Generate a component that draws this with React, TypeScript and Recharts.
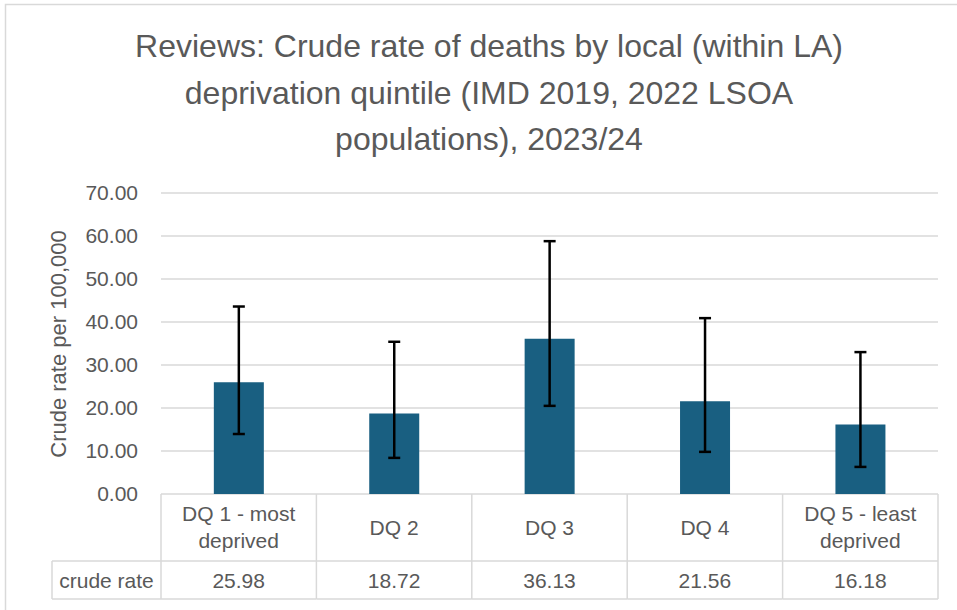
import React from 'react';
import { BarChart, Bar, XAxis, YAxis, CartesianGrid, ErrorBar, Customized } from 'recharts';

// ---- data ----
const categories = ['DQ 1 - most deprived', 'DQ 2', 'DQ 3', 'DQ 4', 'DQ 5 - least deprived'];
const categoryLines = [['DQ 1 - most', 'deprived'], ['DQ 2'], ['DQ 3'], ['DQ 4'], ['DQ 5 - least', 'deprived']];
const crudeRate = [25.98, 18.72, 36.13, 21.56, 16.18];
const lowerCI = [13.95, 8.4, 20.5, 9.8, 6.3];
const upperCI = [43.6, 35.4, 58.8, 40.9, 33.0];
const yTicks = [0, 10, 20, 30, 40, 50, 60, 70];
const titleLines = [
  'Reviews: Crude rate of deaths by local (within LA)',
  'deprivation quintile (IMD 2019, 2022 LSOA',
  'populations), 2023/24',
];
const yAxisTitle = 'Crude rate per 100,000';
const tableRowLabel = 'crude rate';

const chartData = categories.map((c, i) => ({
  name: c,
  rate: crudeRate[i],
  err: [crudeRate[i] - lowerCI[i], upperCI[i] - crudeRate[i]],
}));

// ---- layout ----
const W = 957;
const H = 610;
const PLOT_LEFT = 161;
const PLOT_RIGHT = 938;
const PLOT_TOP = 193;
const PLOT_BOTTOM = 494;
const CELL_W = (PLOT_RIGHT - PLOT_LEFT) / categories.length;
const ROW1_BOTTOM = 561;
const ROW2_BOTTOM = 599;
const TABLE_LEFT = 52;
const GRID = '#D9D9D9';
const TXT = '#595959';
const FONT = '"Liberation Sans", Arial, sans-serif';

const CatTick = (props: any) => {
  const { x, index } = props;
  const lines = categoryLines[index] || [];
  const left = x - CELL_W / 2;
  const right = x + CELL_W / 2;
  const baselines = lines.length === 2 ? [521, 548] : [535];
  return (
    <g>
      {index === 0 && (
        <g>
          <line x1={left} y1={PLOT_BOTTOM} x2={left} y2={ROW2_BOTTOM} stroke={GRID} strokeWidth={1.5} />
          <line x1={TABLE_LEFT} y1={ROW1_BOTTOM} x2={left} y2={ROW1_BOTTOM} stroke={GRID} strokeWidth={1.5} />
          <line x1={TABLE_LEFT} y1={ROW2_BOTTOM} x2={left} y2={ROW2_BOTTOM} stroke={GRID} strokeWidth={1.5} />
          <line x1={TABLE_LEFT} y1={ROW1_BOTTOM} x2={TABLE_LEFT} y2={ROW2_BOTTOM} stroke={GRID} strokeWidth={1.5} />
          <text x={(TABLE_LEFT + left) / 2} y={588} textAnchor="middle" fontSize={21} fill={TXT} fontFamily={FONT}>
            {tableRowLabel}
          </text>
        </g>
      )}
      <line x1={right} y1={PLOT_BOTTOM} x2={right} y2={ROW2_BOTTOM} stroke={GRID} strokeWidth={1.5} />
      <line x1={left} y1={ROW1_BOTTOM} x2={right} y2={ROW1_BOTTOM} stroke={GRID} strokeWidth={1.5} />
      <line x1={left} y1={ROW2_BOTTOM} x2={right} y2={ROW2_BOTTOM} stroke={GRID} strokeWidth={1.5} />
      {lines.map((l, i) => (
        <text key={i} x={x} y={baselines[i]} textAnchor="middle" fontSize={21} fill={TXT} fontFamily={FONT}>
          {l}
        </text>
      ))}
      <text x={x} y={588} textAnchor="middle" fontSize={21} fill={TXT} fontFamily={FONT}>
        {crudeRate[index].toFixed(2)}
      </text>
    </g>
  );
};

const Decorations = () => (
  <g>
    <rect x={5.5} y={4.5} width={W + 10} height={H + 10} fill="none" stroke={GRID} strokeWidth={1.5} />
    {titleLines.map((t, i) => (
      <text key={i} x={489} y={57 + i * 46.5} textAnchor="middle" fontSize={32} fill={TXT} fontFamily={FONT}>
        {t}
      </text>
    ))}
    <text
      x={58}
      y={344}
      transform="rotate(-90 58 344)"
      textAnchor="middle"
      dominantBaseline="central"
      fontSize={22}
      fill={TXT}
      fontFamily={FONT}
    >
      {yAxisTitle}
    </text>
  </g>
);

export default function App() {
  return (
    <div style={{ position: 'absolute', left: 0, top: 0, width: W, height: H, background: '#fff' }}>
      <BarChart
        width={W}
        height={H}
        data={chartData}
        margin={{ top: PLOT_TOP, right: W - PLOT_RIGHT, bottom: 0, left: 0 }}
        barCategoryGap="34%"
      >
        <CartesianGrid vertical={false} stroke={GRID} strokeWidth={1.5} />
        <YAxis
          width={PLOT_LEFT}
          domain={[0, 70]}
          ticks={yTicks}
          interval={0}
          axisLine={false}
          tickLine={false}
          tickMargin={17}
          tickFormatter={(v: number) => v.toFixed(2)}
          tick={{ fill: TXT, fontSize: 21, fontFamily: FONT }}
        />
        <XAxis
          dataKey="name"
          height={H - PLOT_BOTTOM}
          interval={0}
          axisLine={false}
          tickLine={false}
          tick={<CatTick />}
        />
        <Bar dataKey="rate" fill="#195F81" isAnimationActive={false}>
          <ErrorBar dataKey="err" stroke="#000" strokeWidth={2.5} width={6} />
        </Bar>
        <Customized component={Decorations} />
      </BarChart>
    </div>
  );
}
